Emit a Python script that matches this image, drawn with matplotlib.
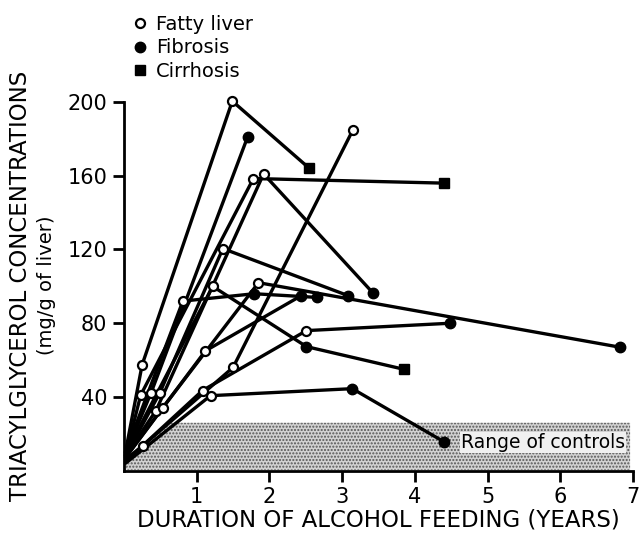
import numpy as np
import matplotlib
matplotlib.use('Agg')
from matplotlib import pyplot as plt

# one list per patient: years on alcohol, liver triacylglycerol (mg/g), biopsy stage
# stage: '' = start (no biopsy marker), 'F' = fatty liver, 'B' = fibrosis, 'C' = cirrhosis
years = [
    [0.02, 0.25, 1.49, 2.55],
    [0.02, 0.37, 1.70],
    [0.02, 0.23, 1.78, 4.40],
    [0.02, 0.44, 1.92, 3.42],
    [0.02, 0.26, 1.50, 3.15],
    [0.02, 1.19, 3.14, 4.40],
    [0.02, 1.08, 2.51, 4.49],
    [0.02, 1.12, 2.44],
    [0.02, 1.22, 2.51, 3.85],
    [0.02, 0.53, 1.85, 6.82],
    [0.02, 0.49, 1.36, 3.08],
    [0.02, 0.81, 1.79, 2.66],
]
tg = [
    [10, 57.5, 200.5, 164],
    [9, 42, 181],
    [8, 41, 158.5, 156],
    [8, 32.6, 161, 96.6],
    [6, 13.6, 56, 185],
    [4, 40.7, 44.5, 15.7],
    [5, 43.5, 76, 80],
    [7, 65, 95],
    [9, 100, 67.3, 55],
    [7, 34, 102, 67],
    [8, 42, 120.5, 95],
    [10, 92, 96, 94],
]
stages = [
    ['', 'F', 'F', 'C'],
    ['', 'F', 'B'],
    ['', 'F', 'F', 'C'],
    ['', 'F', 'F', 'B'],
    ['', 'F', 'F', 'F'],
    ['', 'F', 'B', 'B'],
    ['', 'F', 'F', 'B'],
    ['', 'F', 'B'],
    ['', 'F', 'B', 'C'],
    ['', 'F', 'F', 'B'],
    ['', 'F', 'F', 'B'],
    ['', 'F', 'B', 'B'],
]
control_range = [0.5, 26]
control_end_year = 6.96

stage_style = {
    'F': dict(marker='o', ms=6.5, mfc='white', mec='black', mew=1.6),
    'B': dict(marker='o', ms=7.5, mfc='black', mec='black', mew=1),
    'C': dict(marker='s', ms=7, mfc='black', mec='black', mew=1),
}
stage_names = {'F': 'Fatty liver', 'B': 'Fibrosis', 'C': 'Cirrhosis'}

plt.rcParams['font.family'] = ['DejaVu Sans']

fig = plt.figure(figsize=(6.41, 5.35), dpi=100)
ax = fig.add_axes([0.1934, 0.1202, 0.7941, 0.6891])

# shaded range of controls, left edge cut by the lowest patient line
lowest = int(np.argmin([t[1] for t in tg]))
x0, x1 = years[lowest][0], years[lowest][1]
y0, y1 = tg[lowest][0], tg[lowest][1]
x_top = x0 + (control_range[1] - y0) * (x1 - x0) / (y1 - y0)
poly_x = [x0, x_top, control_end_year, control_end_year, x0]
poly_y = [y0, control_range[1], control_range[1], control_range[0], control_range[0]]
ax.fill(poly_x, poly_y, facecolor='#d2d2d2', edgecolor='#555555', hatch='.....',
        linewidth=0, zorder=1)
ax.text(4.63, 15.3, 'Range of controls', fontsize=13.5, va='center', ha='left',
        bbox=dict(facecolor='#f0f0f0', edgecolor='none', pad=0.5), zorder=2)

for xs, ys, st in zip(years, tg, stages):
    ax.plot(xs, ys, color='black', lw=2.4, zorder=3, clip_on=False,
            solid_capstyle='round')
    for x, y, s in zip(xs, ys, st):
        if s:
            ax.plot(x, y, ls='none', zorder=4, clip_on=False, **stage_style[s])

ax.set_xlim(0, 7)
ax.set_ylim(0, 200)
ax.set_xticks([1, 2, 3, 4, 5, 6, 7])
ax.set_yticks([40, 80, 120, 160, 200])
ax.tick_params(direction='out', length=8, width=2, labelsize=15, pad=4)
for side in ['top', 'right']:
    ax.spines[side].set_visible(False)
for side in ['left', 'bottom']:
    ax.spines[side].set_linewidth(2)

ax.set_xlabel('DURATION OF ALCOHOL FEEDING (YEARS)', fontsize=16.5, labelpad=1)
fig.text(0.032, 0.4665, 'TRIACYLGLYCEROL CONCENTRATIONS', rotation=90,
         fontsize=16.5, ha='center', va='center')
fig.text(0.073, 0.4665, '(mg/g of liver)', rotation=90, fontsize=14,
         ha='center', va='center')

handles = []
for s in ['F', 'B', 'C']:
    h, = ax.plot([], [], ls='none', **stage_style[s])
    handles.append(h)
fig.legend(handles, [stage_names[s] for s in ['F', 'B', 'C']],
           loc='upper left', bbox_to_anchor=(0.187, 1.0), frameon=False,
           fontsize=14, handlelength=0.6, handletextpad=0.5, labelspacing=0.25,
           borderpad=0.25)

plt.savefig('out.png', dpi=100)
